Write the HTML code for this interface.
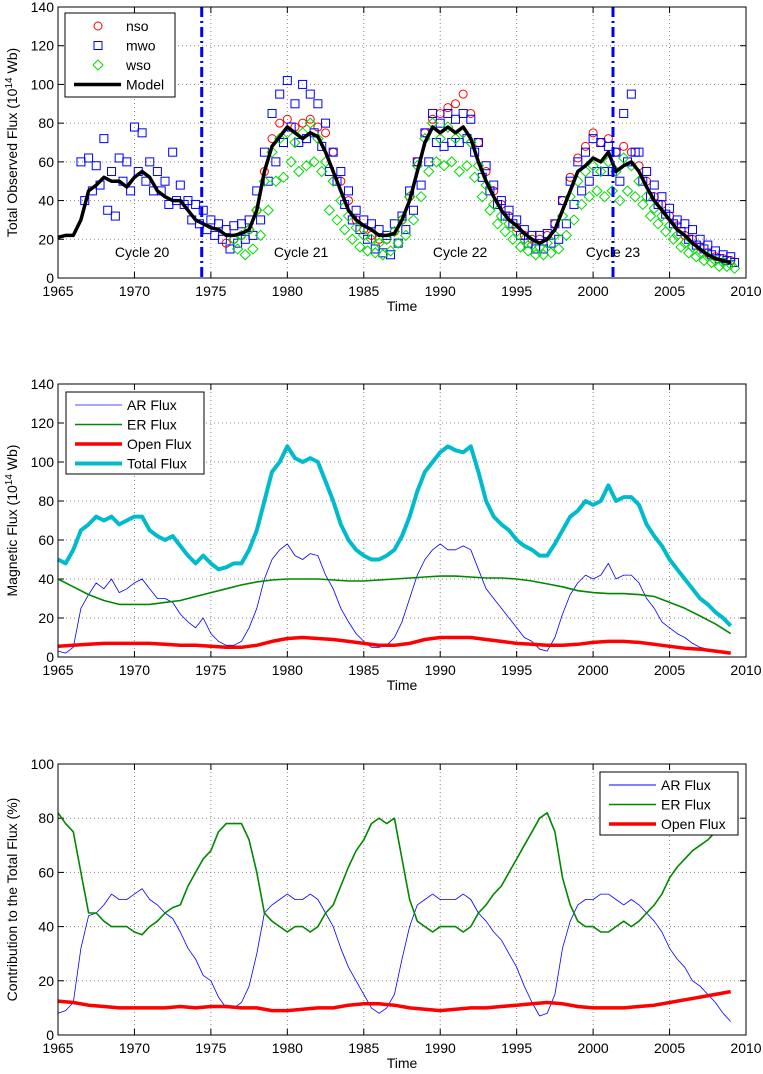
<!DOCTYPE html>
<html><head><meta charset="utf-8"><style>
body{margin:0;background:#fff}
svg{display:block;font-family:"Liberation Sans",sans-serif}
</style></head><body>
<svg id="c" width="763" height="1074" xmlns="http://www.w3.org/2000/svg"></svg>
<script>
// ---------- DATA ----------
const modelStart=1965, modelVals=[21,22,22,30,45,48,52,50,50,47,52,55,52,45,42,40,40,35,30,28,26,25,22,22,23,25,35,55,68,73,78,75,72,75,73,65,55,45,35,30,27,25,22,22,23,30,40,55,70,78,75,78,75,78,72,60,50,42,35,30,27,23,20,18,20,25,35,45,55,58,62,60,65,55,58,60,55,47,40,35,30,25,22,18,15,12,10,9,8];
const mwoStart=1966.5;
const mwoHi=[60,62,58,72,55,62,60,78,75,60,55,50,65,48,40,38,35,30,28,25,27,28,30,45,65,85,95,102,90,100,95,90,80,65,55,45,35,30,28,25,22,28,32,45,60,75,85,80,85,82,85,82,70,58,48,40,35,30,25,22,22,23,28,40,50,60,65,72,70,68,65,85,95,65,55,48,42,36,30,28,25,20,17,14,12,11];
const mwoLo=[40,45,48,35,32,50,45,55,50,45,45,38,40,38,30,28,25,22,20,15,18,20,22,30,50,60,70,78,70,72,75,68,55,50,38,30,25,20,15,13,12,18,25,35,48,60,70,68,70,70,72,65,52,45,38,32,28,22,18,15,15,18,20,28,38,45,50,55,55,55,50,60,65,50,42,38,33,28,24,20,17,15,12,10,9,8];
const nsoStart=1976;
const nsoVals=[18,20,22,25,35,55,72,80,82,78,80,82,78,75,65,50,40,30,25,22,20,20,24,30,42,60,75,82,85,88,90,95,85,70,55,45,38,32,26,22,20,20,22,28,40,52,62,68,75,70,72,65,68,65,58,50,42,38,32,27,22,20,16,13,11,10,9];
const wsoStart=1976.5;
const wsoHi=[20,22,25,35,50,65,72,75,70,75,80,72,60,50,40,32,26,22,20,18,20,24,30,42,58,72,80,72,78,72,75,70,58,48,38,32,28,24,20,17,16,18,22,32,42,50,55,58,55,60,55,62,58,50,42,36,32,27,22,18,16,13,11,9,8,7];
const wsoLo=[15,12,15,22,35,50,52,60,55,58,60,55,35,30,25,20,16,14,13,12,14,18,22,30,42,55,60,58,60,55,58,52,42,35,28,24,20,16,14,12,12,13,15,22,30,38,42,45,42,45,40,45,42,38,32,28,24,20,16,13,11,9,8,6,6,5];
const cycleLabels=["Cycle 20","Cycle 21","Cycle 22","Cycle 23"];
const cycleYears=[1970.5,1980.9,1991.3,2001.3];
const cycleBounds=[1974.4,2001.3];

const p2Start=1965;
const totalVals=[50,48,55,65,68,72,70,72,68,70,72,72,65,62,60,62,57,52,48,52,48,45,46,48,48,55,65,80,95,100,108,102,100,102,100,90,80,68,60,55,52,50,50,52,55,62,72,85,95,100,105,108,106,105,108,95,80,72,68,65,60,57,55,52,52,58,65,72,75,80,78,80,88,80,82,82,78,68,62,57,50,45,40,35,30,27,23,20,16];
const arVals=[3,2,5,25,32,38,35,40,33,35,38,40,35,30,30,28,22,18,15,20,12,8,6,6,8,15,25,40,50,55,58,52,50,53,52,42,35,25,18,12,8,5,5,6,10,18,30,42,50,55,58,55,55,57,55,45,35,30,25,20,15,10,8,4,3,10,22,32,38,42,40,42,48,40,42,42,38,30,25,18,15,12,10,7,5,4,3,2,1.5];
const erVals=[40,36,32,29,27,27,27,28,29,31,33,35,37,38.5,39.5,40,40,40,39.5,39,39,39.5,40,40.5,41,41.5,41.5,41,40.5,40.5,40,39,37.5,36,34,33,32.5,32.5,32,31,28,25,21,17,12];
const openVals=[5.5,6,6.5,7,7,7,7,6.5,6,6,5.5,5,5,6,8,9.5,10,9.5,9,8,7,6,6,7,9,10,10,10,9,8,7,6.5,6,6,6.5,7.5,8,8,7.5,6.5,5.5,4.5,4,3,2];

const arPct=[8,9,12,32,44,45,48,52,50,50,52,54,50,48,45,43,38,32,28,22,20,14,10,10,12,18,30,45,48,50,52,50,50,52,50,45,40,32,25,20,15,10,8,10,15,28,40,48,50,52,50,50,50,52,50,45,42,38,35,30,25,18,12,7,8,15,32,42,48,50,50,52,52,50,48,50,48,45,42,38,32,28,25,20,18,15,12,8,5];
const erPct=[82,78,75,60,45,45,42,40,40,40,38,37,40,42,45,47,48,55,60,65,68,75,78,78,78,72,60,45,42,40,38,40,40,38,40,45,48,55,62,68,72,78,80,78,80,65,50,42,40,38,40,40,40,38,40,45,48,52,55,60,65,70,75,80,82,75,58,48,42,40,40,38,38,40,42,40,42,45,48,52,58,62,65,68,70,72,75,77,78];
const openPct=[12.5,12,11,10.5,10,10,10,10,10.5,10,10.5,10.5,10,10,9,9,9.5,10,10,11,11.5,11.5,11,10,9.5,9,9.5,10,10,10.5,11,11.5,12,11.5,10.5,10,10,10,10.5,11,12,13,14,15,16];

// ---------- DRAW ----------
const NS="http://www.w3.org/2000/svg";
const svg=document.getElementById('c');
function mk(tag,attrs,parent){const e=document.createElementNS(NS,tag);for(const k in attrs)e.setAttribute(k,attrs[k]);(parent||svg).appendChild(e);return e;}
const X0=58,X1=746;
const xs=y=>X0+(y-1965)/45*(X1-X0);
const xTicks=[1965,1970,1975,1980,1985,1990,1995,2000,2005,2010];
const FS=14;

function axes(top,bot,ymax,ystep,ylabel,name){
  const ys=v=>bot-(v/ymax)*(bot-top);
  const g=mk('g',{});
  
  
  for(const t of xTicks){
    const x=xs(t);
    if(t>1965&&t<2010){const l=mk('line',{x1:x,x2:x,y1:top,y2:bot,stroke:'#888','stroke-width':1,'stroke-dasharray':'1,3'},g);}
    mk('line',{x1:x,x2:x,y1:bot,y2:bot-6,stroke:'#000'},g);
    mk('line',{x1:x,x2:x,y1:top,y2:top+6,stroke:'#000'},g);
    const tx=mk('text',{x:x,y:bot+18,'font-size':FS,'text-anchor':'middle'},g);tx.textContent=t;
    
  }
  for(let v=0;v<=ymax;v+=ystep){
    const y=ys(v);
    if(v>0&&v<ymax){const l=mk('line',{x1:X0,x2:X1,y1:y,y2:y,stroke:'#888','stroke-width':1,'stroke-dasharray':'1,3'},g);}
    mk('line',{x1:X0,x2:X0+6,y1:y,y2:y,stroke:'#000'},g);
    mk('line',{x1:X1,x2:X1-6,y1:y,y2:y,stroke:'#000'},g);
    const tx=mk('text',{x:X0-4,y:y+5,'font-size':FS,'text-anchor':'end'},g);tx.textContent=v;
    
  }
  const xl=mk('text',{x:(X0+X1)/2,y:bot+33,'font-size':FS,'text-anchor':'middle'},g);xl.textContent='Time';
  
  const yl=mk('text',{x:0,y:0,'font-size':FS,'text-anchor':'middle',transform:`translate(17,${(top+bot)/2}) rotate(-90)`},g);yl.innerHTML=ylabel;
  
  return {ys,g,top,bot};
}
function frame(a){const r=mk('rect',{x:X0,y:a.top,width:X1-X0,height:a.bot-a.top,fill:'none',stroke:'#000','stroke-width':1});}
function line(vals,start,step,ys,color,w,name){
  const pts=vals.map((v,i)=>xs(start+i*step).toFixed(1)+','+ys(v).toFixed(1)).join(' ');
  const p=mk('polyline',{points:pts,fill:'none',stroke:color,'stroke-width':w,'stroke-linejoin':'round'});
  
  
  return p;
}
function marker(type,x,y,color,parent){
  let e;
  if(type==='o')e=mk('circle',{cx:x,cy:y,r:4,fill:'none',stroke:color},parent);
  else if(type==='s')e=mk('rect',{x:x-4,y:y-4,width:8,height:8,fill:'none',stroke:color},parent);
  else e=mk('polygon',{points:`${x},${y-5} ${x+5},${y} ${x},${y+5} ${x-5},${y}`,fill:'none',stroke:color},parent);
  return e;
}
function scatter(vals,start,ys,type,color,name){
  const g=mk('g',{});
  
  
  vals.forEach((v,i)=>marker(type,xs(start+i*0.5),ys(v),color,g));
}
function legend(x,y,w,h,items,name){
  const g=mk('g',{});
  
  
  mk('rect',{x:x,y:y,width:w,height:h,fill:'#fff',stroke:'#000'},g);
  items.forEach((it,i)=>{
    const cy=y+13+i*19.5;
    const eg=mk('g',{},g);
    
    
    if(it.m)marker(it.m,x+33,cy,it.c,eg);
    else mk('line',{x1:x+9,x2:x+56,y1:cy,y2:cy,stroke:it.c,'stroke-width':it.w},eg);
    const t=mk('text',{x:x+61,y:cy+5,'font-size':FS},eg);t.textContent=it.t;
  });
}

// Panel 1
const a1=axes(7,278,140,20,'Total Observed Flux (10<tspan font-size="10" dy="-5">14</tspan><tspan dy="5"> Wb)</tspan>','panel-observed-flux');
scatter(nsoVals,nsoStart,a1.ys,'o','#f00','nso-series');
scatter(mwoHi,mwoStart,a1.ys,'s','#00f','mwo-series-upper');
scatter(mwoLo,mwoStart+0.25,a1.ys,'s','#00f','mwo-series-lower');
scatter(wsoHi,wsoStart,a1.ys,'d','#0d0','wso-series-upper');
scatter(wsoLo,wsoStart+0.25,a1.ys,'d','#0d0','wso-series-lower');
line(modelVals,modelStart,0.5,a1.ys,'#000',3.5,'model-line');
cycleBounds.forEach(b=>{const l=mk('line',{x1:xs(b),x2:xs(b),y1:7,y2:278,stroke:'#00f','stroke-width':3,'stroke-dasharray':'10,4,2,4'});});
cycleLabels.forEach((c,i)=>{const t=mk('text',{x:xs(cycleYears[i]),y:257,'font-size':FS,'text-anchor':'middle'});t.textContent=c;});
frame(a1);
legend(65,13,110,84,[{m:'o',c:'#f00',t:'nso'},{m:'s',c:'#00f',t:'mwo'},{m:'d',c:'#0d0',t:'wso'},{c:'#000',w:3.5,t:'Model'}],'legend-observed');

// Panel 2
const a2=axes(384,657,140,20,'Magnetic Flux (10<tspan font-size="10" dy="-5">14</tspan><tspan dy="5"> Wb)</tspan>','panel-magnetic-flux');
line(arVals,p2Start,0.5,a2.ys,'#00f',0.8,'ar-flux-line');
line(erVals,p2Start,1,a2.ys,'#080',1.6,'er-flux-line');
line(openVals,p2Start,1,a2.ys,'#f00',3.5,'open-flux-line');
line(totalVals,p2Start,0.5,a2.ys,'#0bc',4,'total-flux-line');
frame(a2);
legend(66,392,138,82,[{c:'#88f',w:1.5,t:'AR Flux'},{c:'#080',w:1.6,t:'ER Flux'},{c:'#f00',w:3.5,t:'Open Flux'},{c:'#0bc',w:4,t:'Total Flux'}],'legend-magnetic');

// Panel 3
const a3=axes(764,1035,100,20,'Contribution to the Total Flux (%)','panel-contribution');
line(arPct,p2Start,0.5,a3.ys,'#00f',0.8,'ar-percent-line');
line(erPct,p2Start,0.5,a3.ys,'#080',1.6,'er-percent-line');
line(openPct,p2Start,1,a3.ys,'#f00',3.5,'open-percent-line');
frame(a3);
legend(600,772,138,63,[{c:'#00f',w:1,t:'AR Flux'},{c:'#080',w:1.6,t:'ER Flux'},{c:'#f00',w:3.5,t:'Open Flux'}],'legend-contribution');
</script>
</body></html>
